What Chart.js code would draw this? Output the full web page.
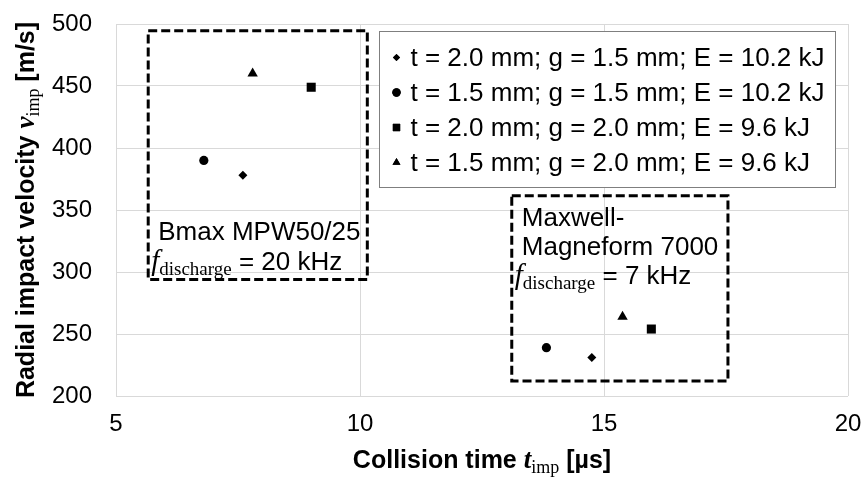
<!DOCTYPE html>
<html>
<head>
<meta charset="utf-8">
<script src="https://cdn.jsdelivr.net/npm/chart.js@4.4.0/dist/chart.umd.min.js"></script>
<style>
  html, body { margin: 0; padding: 0; background: #fff; }
</style>
</head>
<body>
<canvas id="myChart" width="864" height="480"></canvas>
<script>
'use strict';

// series: t = sheet thickness, g = gap, E = charging energy
let seriesLabels = [
    't = 2.0 mm; g = 1.5 mm; E = 10.2 kJ',
    't = 1.5 mm; g = 1.5 mm; E = 10.2 kJ',
    't = 2.0 mm; g = 2.0 mm; E = 9.6 kJ',
    't = 1.5 mm; g = 2.0 mm; E = 9.6 kJ'
];
// collision time [µs], first value Bmax, second value Maxwell
let timeValues = [
    [7.6, 14.75],
    [6.8, 13.82],
    [9.0, 15.97],
    [7.8, 15.38]
];
// radial impact velocity [m/s]
let velocityValues = [
    [378, 231],
    [390, 239],
    [449, 254],
    [460, 264]
];
let xTicks = [5, 10, 15, 20];
let yTicks = [200, 250, 300, 350, 400, 450, 500];
let machineNames = [['Bmax MPW50/25'], ['Maxwell-', 'Magneform 7000']];
let machineFreqs = ['= 20 kHz', '= 7 kHz'];

let pointStyles = ['rectRot', 'circle', 'rect', 'triangle'];
let pointSizes = [4.5, 4.6, 6.4, 6];
let legendSizes = [3.6, 4.2, 5.2, 4.6];

const SANS = '"Liberation Sans", Arial, sans-serif';
const SERIF = '"Liberation Serif", "Times New Roman", serif';

// dashed boxes round each machine group, in data units
let groupBoxes = [
    { x0: 5.66, x1: 10.15, y0: 294, y1: 494.6 },
    { x0: 13.11, x1: 17.54, y0: 212, y1: 361.5 }
];

function drawParts(ctx, parts, x, y, align) {
    let total = 0;
    parts.forEach(function (p) {
        ctx.font = p.font;
        p.w = ctx.measureText(p.text).width;
        total += p.w;
    });
    let cx = align === 'center' ? x - total / 2 : x;
    ctx.textAlign = 'left';
    ctx.textBaseline = 'alphabetic';
    parts.forEach(function (p) {
        ctx.font = p.font;
        ctx.fillText(p.text, cx + (p.dx || 0), y + (p.dy || 0));
        cx += p.w;
    });
}

function freqParts(freq) {
    return [
        { text: 'f', font: 'italic 29px ' + SERIF },
        { text: 'discharge', font: '19px ' + SERIF, dy: 5 },
        { text: ' ' + freq, font: '26px ' + SANS }
    ];
}

function noScalePadding(scale) {
    scale.paddingTop = 0;
    scale.paddingBottom = 0;
    scale.paddingLeft = 0;
    scale.paddingRight = 0;
}

let extrasPlugin = {
    id: 'extras',
    afterDatasetsDraw: function (chart) {
        let ctx = chart.ctx;
        let xs = chart.scales.x;
        let ys = chart.scales.y;
        ctx.save();
        ctx.fillStyle = '#000';

        // group boxes
        ctx.strokeStyle = '#000';
        ctx.lineWidth = 3;
        ctx.setLineDash([9, 4]);
        let rects = groupBoxes.map(function (b) {
            let l = xs.getPixelForValue(b.x0);
            let r = xs.getPixelForValue(b.x1);
            let t = ys.getPixelForValue(b.y1);
            let bt = ys.getPixelForValue(b.y0);
            ctx.strokeRect(l, t, r - l, bt - t);
            return { l: l, t: t, r: r, b: bt };
        });
        ctx.setLineDash([]);

        // Bmax label sits at the bottom of its box
        let r0 = rects[0];
        drawParts(ctx, [{ text: machineNames[0][0], font: '26px ' + SANS }], r0.l + 10, r0.b - 39, 'left');
        drawParts(ctx, freqParts(machineFreqs[0]), r0.l + 3, r0.b - 9, 'left');
        // Maxwell label sits at the top
        let r1 = rects[1];
        drawParts(ctx, [{ text: machineNames[1][0], font: '26px ' + SANS }], r1.l + 10, r1.t + 30, 'left');
        drawParts(ctx, [{ text: machineNames[1][1], font: '26px ' + SANS }], r1.l + 10, r1.t + 59, 'left');
        drawParts(ctx, freqParts(machineFreqs[1]), r1.l + 3, r1.t + 88, 'left');

        // legend
        let lx = 379.5, ly = 31.5, lw = 456, lh = 156;
        ctx.fillStyle = '#fff';
        ctx.fillRect(lx, ly, lw, lh);
        ctx.strokeStyle = '#7f7f7f';
        ctx.lineWidth = 1;
        ctx.strokeRect(lx, ly, lw, lh);
        ctx.fillStyle = '#000';
        for (let i = 0; i < seriesLabels.length; i++) {
            let rowY = ly + 26 + i * 35;
            Chart.helpers.drawPoint(ctx, {
                pointStyle: pointStyles[i], radius: legendSizes[i], borderWidth: 0, rotation: 0
            }, lx + 17, rowY);
            ctx.fill();
            ctx.font = '26px ' + SANS;
            ctx.textAlign = 'left';
            ctx.textBaseline = 'middle';
            ctx.fillText(seriesLabels[i], lx + 31, rowY + 1);
        }

        // axis titles
        drawParts(ctx, [
            { text: 'Collision time ', font: 'bold 25px ' + SANS },
            { text: 't', font: 'bold italic 27px ' + SERIF },
            { text: 'imp', font: '18px ' + SERIF, dy: 5 },
            { text: ' [µs]', font: 'bold 25px ' + SANS }
        ], (xs.left + xs.right) / 2, 468, 'center');

        ctx.translate(34, (ys.top + ys.bottom) / 2);
        ctx.rotate(-Math.PI / 2);
        drawParts(ctx, [
            { text: 'Radial impact velocity ', font: 'bold 25px ' + SANS },
            { text: 'v', font: 'bold italic 27px ' + SERIF },
            { text: 'imp', font: '18px ' + SERIF, dy: 5 },
            { text: ' [m/s]', font: 'bold 25px ' + SANS }
        ], 0, 0, 'center');
        ctx.restore();
    }
};

let datasets = [];
for (let i = 0; i < seriesLabels.length; i++) {
    let pts = [];
    for (let j = 0; j < timeValues[i].length; j++) {
        pts.push({ x: timeValues[i][j], y: velocityValues[i][j] });
    }
    datasets.push({
        label: seriesLabels[i],
        data: pts,
        pointStyle: pointStyles[i],
        pointRadius: pointSizes[i],
        pointHoverRadius: pointSizes[i],
        backgroundColor: '#000',
        borderColor: '#000',
        borderWidth: 0
    });
}

let ctx = document.getElementById('myChart').getContext('2d');
let myChart = new Chart(ctx, {
    type: 'scatter',
    data: { datasets: datasets },
    options: {
        responsive: false,
        animation: false,
        layout: { padding: { top: 24, right: 16, left: 0, bottom: 0 } },
        plugins: {
            legend: { display: false },
            tooltip: { enabled: false }
        },
        scales: {
            x: {
                type: 'linear',
                min: xTicks[0],
                max: xTicks[xTicks.length - 1],
                afterBuildTicks: function (scale) {
                    scale.ticks = xTicks.map(function (v) { return { value: v }; });
                },
                afterFit: function (scale) { scale.height = 84; noScalePadding(scale); },
                ticks: { color: '#000', padding: 14, font: { family: SANS, size: 24 } },
                grid: { color: '#d9d9d9', drawTicks: false },
                border: { display: false }
            },
            y: {
                min: yTicks[0],
                max: yTicks[yTicks.length - 1],
                afterBuildTicks: function (scale) {
                    scale.ticks = yTicks.map(function (v) { return { value: v }; });
                },
                afterFit: function (scale) { scale.width = 116; noScalePadding(scale); },
                ticks: { color: '#000', padding: 24, font: { family: SANS, size: 24 } },
                grid: { color: '#d9d9d9', drawTicks: false },
                border: { display: false }
            }
        }
    },
    plugins: [extrasPlugin]
});
</script>
</body>
</html>
